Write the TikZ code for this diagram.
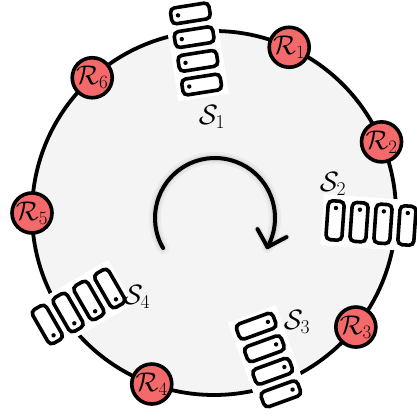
\documentclass[tikz,border=0pt]{standalone}
\usepackage{fix-cm}
\usetikzlibrary{calc}
\definecolor{rfill}{RGB}{244,106,106}
\definecolor{ringfill}{RGB}{244,244,244}
\tikzset{
  ring/.style={draw=black, line width=3.8pt, fill=ringfill},
  rnode/.style={circle, draw=black, line width=3.6pt, fill=rfill, minimum size=40pt, inner sep=0pt, font=\fontsize{27}{30}\selectfont},
  srv/.style={draw=black, line width=3.6pt, rounded corners=4.5pt},
  slabel/.style={font=\fontsize{28}{30}\selectfont, inner sep=0pt},
  arrowline/.style={draw=black, line width=4pt, line cap=round, line join=round},
  shadowline/.style={draw=black, line cap=round, line join=round},
}
\newcommand{\serverstack}[3]{%
  \coordinate (#1) at #2;
  \begin{scope}[shift={(#1)}, rotate=#3]
    \fill[white] (-25.5,-49) rectangle (25.5,49);
    \foreach \k in {0,1,2,3} {
      \draw[srv] (-19.5,{36-24*\k-8}) rectangle (19.5,{36-24*\k+8});
      \fill (-12.5,{36-24*\k}) circle (2.2pt);
    }
  \end{scope}
}
\begin{document}
\begin{tikzpicture}[x=1pt,y=1pt]
\useasboundingbox (0,0) rectangle (417,415);
\coordinate (C) at (214,202);
\draw[ring] (C) circle[radius=182];
\serverstack{S1}{(196,366)}{9}
\serverstack{S2}{(371,192)}{-94}
\serverstack{S3}{(268.5,55)}{-160}
\serverstack{S4}{(78.5,108.5)}{120}
\node[rnode] (R1) at ($(C)+(65.6:182)$) {$\mathcal{R}_1$};
\node[rnode] (R2) at ($(C)+(23:182)$) {$\mathcal{R}_2$};
\node[rnode] (R3) at ($(C)+(-38.8:182)$) {$\mathcal{R}_3$};
\node[rnode] (R4) at ($(C)+(250:182)$) {$\mathcal{R}_4$};
\node[rnode] (R5) at ($(C)+(180:182)$) {$\mathcal{R}_5$};
\node[rnode] (R6) at ($(C)+(132:182)$) {$\mathcal{R}_6$};
\node[slabel] (L1) at (212,298) {$\mathcal{S}_1$};
\node[slabel] (L2) at (333,231) {$\mathcal{S}_2$};
\node[slabel] (L3) at (297,93) {$\mathcal{S}_3$};
\node[slabel] (L4) at (137,118) {$\mathcal{S}_4$};
% rotation arrow
\coordinate (ac) at (215,197);
\coordinate (a0) at ($(ac)+(210:60)$);
\coordinate (tip) at ($(ac)+(-29:60)$);
\coordinate (barbA) at ($(tip)+(-10,18)$);
\coordinate (barbB) at ($(tip)+(19,10)$);
\begin{scope}[xshift=2, yshift=-7]
  \draw[shadowline, line width=12pt, opacity=0.04] (a0) arc[start angle=210, end angle=-29, radius=60];
  \draw[shadowline, line width=7pt, opacity=0.06] (a0) arc[start angle=210, end angle=-29, radius=60];
  \draw[shadowline, line width=7pt, opacity=0.06] (barbA) -- (tip) -- (barbB);
\end{scope}
\draw[arrowline] (a0) arc[start angle=210, end angle=-29, radius=60];
\draw[arrowline] (barbA) -- (tip) -- (barbB);
\end{tikzpicture}
\end{document}
